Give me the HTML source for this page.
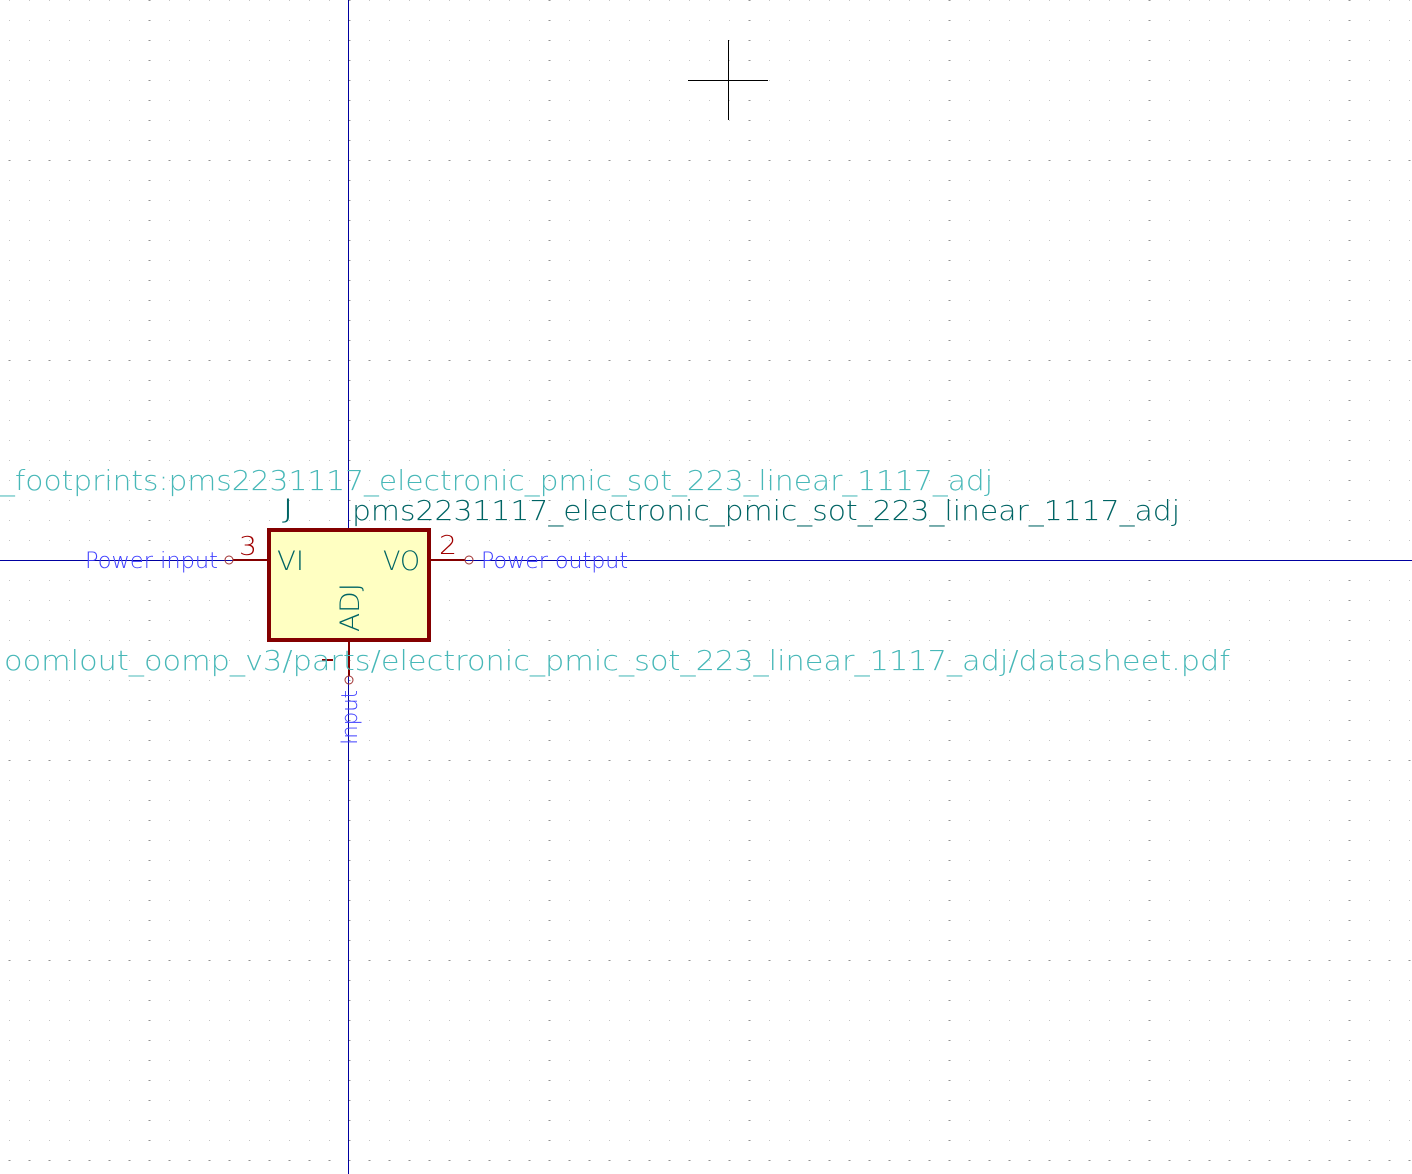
<!DOCTYPE html>
<html><head><meta charset="utf-8"><style>html,body{margin:0;padding:0;background:#fff;}svg{display:block}</style></head>
<body>
<svg width="1412" height="1174" xmlns="http://www.w3.org/2000/svg" font-family="'DejaVu Sans','Liberation Sans',sans-serif" font-weight="300">
<defs>
<pattern id="g" x="9" y="0" width="20" height="20" patternUnits="userSpaceOnUse"><rect x="0" y="0" width="1" height="1" fill="#c4c4c4"/></pattern>
</defs>
<rect width="1412" height="1174" fill="url(#g)"/>
<g fill="#909090"><g id="cols"></g></g>
<script>
(function(){var s='http://www.w3.org/2000/svg';var g=document.getElementById('cols');
for(var x=149;x<1412;x+=200){for(var y=0;y<1174;y+=20){var r=document.createElementNS(s,'rect');r.setAttribute('x',x-0.5);r.setAttribute('y',y);r.setAttribute('width',2);r.setAttribute('height',1);g.appendChild(r);}}
for(var y=160;y<1174;y+=200){for(var x=9;x<1412;x+=20){var r=document.createElementNS(s,'rect');r.setAttribute('x',x-0.5);r.setAttribute('y',y);r.setAttribute('width',2);r.setAttribute('height',1);g.appendChild(r);}}
})();
</script>
<line x1="0" y1="560.5" x2="1412" y2="560.5" stroke="#0000a0" stroke-width="1"/>
<line x1="348.5" y1="0" x2="348.5" y2="1174" stroke="#0000a0" stroke-width="1"/>
<line x1="688" y1="80.5" x2="768" y2="80.5" stroke="#000" stroke-width="1"/>
<line x1="728.5" y1="40" x2="728.5" y2="120" stroke="#000" stroke-width="1"/>
<g stroke="#840000" stroke-width="2" fill="none">
<line x1="233" y1="560" x2="269" y2="560"/>
<line x1="429" y1="560" x2="465" y2="560"/>
<line x1="349" y1="640" x2="349" y2="676"/>
<line x1="322" y1="660" x2="333" y2="660"/>
</g>
<g stroke="#a03030" stroke-width="1" fill="none">
<circle cx="229" cy="560" r="4"/>
<circle cx="469" cy="560" r="4"/>
<circle cx="349" cy="680" r="4"/>
</g>
<rect x="269" y="530" width="160" height="110" fill="#ffffc2" stroke="#840000" stroke-width="4"/>
<g fill="#006464" font-size="27">
<text x="277" y="570" textLength="27" lengthAdjust="spacingAndGlyphs">VI</text>
<text x="383" y="570" textLength="37" lengthAdjust="spacingAndGlyphs">VO</text>
<text transform="translate(359,632) rotate(-90)" textLength="49" lengthAdjust="spacingAndGlyphs">ADJ</text>
<text x="282" y="518" textLength="12" lengthAdjust="spacingAndGlyphs">J</text>
<text x="352" y="520" font-size="28" textLength="828" lengthAdjust="spacingAndGlyphs">pms2231117_electronic_pmic_sot_223_linear_1117_adj</text>
</g>
<g fill="#a00000" font-size="26">
<text x="239" y="555" textLength="18" lengthAdjust="spacingAndGlyphs">3</text>
<text x="439" y="554" textLength="18" lengthAdjust="spacingAndGlyphs">2</text>
</g>
<g fill="#48b8b8" font-size="28">
<text x="0" y="490" textLength="993" lengthAdjust="spacingAndGlyphs">_footprints:pms2231117_electronic_pmic_sot_223_linear_1117_adj</text>
<text x="4" y="670" textLength="1226" lengthAdjust="spacingAndGlyphs">oomlout_oomp_v3/parts/electronic_pmic_sot_223_linear_1117_adj/datasheet.pdf</text>
</g>
<g fill="#4040ff" font-size="22">
<text x="85" y="568" textLength="133" lengthAdjust="spacingAndGlyphs">Power input</text>
<text x="481" y="568" textLength="147" lengthAdjust="spacingAndGlyphs">Power output</text>
<text transform="translate(357,745) rotate(-90)" textLength="55" lengthAdjust="spacingAndGlyphs">Input</text>
</g>
</svg>
</body></html>
